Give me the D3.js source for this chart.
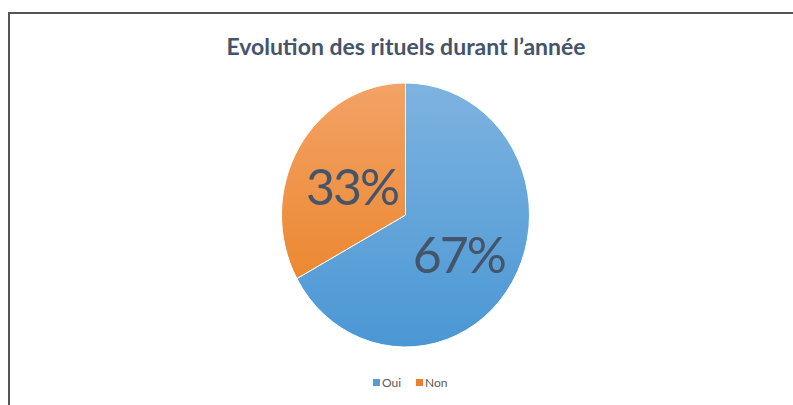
<!DOCTYPE html>
<html>
<head>
<meta charset="utf-8">
<script src="https://cdn.jsdelivr.net/npm/d3@7"></script>
<style>
  body { margin: 0; background: #fff; }
  svg { display: block; font-family: Lato, "Open Sans", sans-serif; }
</style>
</head>
<body>
<svg id="chart" width="793" height="405"></svg>
<script>
// Data
const categories = ["Oui", "Non"]
const values = [67, 33]
const labels = ["67%", "33%"]
const title = "Evolution des rituels durant l\u2019année"

const width = 793, height = 405
const svg = d3.select("#chart")

// Frame
svg.append("path")
  .attr("d", `M9,${height} L9,13 L${width},13`)
  .attr("fill", "none")
  .attr("stroke", "#555")
  .attr("stroke-width", 2)

// Title
svg.append("text")
  .attr("x", 406)
  .attr("y", 55)
  .attr("text-anchor", "middle")
  .style("font-size", "23px")
  .style("font-weight", "700")
  .style("fill", "#44546a")
  .text(title)

// Gradients
const defs = svg.append("defs")
const gradients = [
  { id: "g-oui", top: "#7eb3e0", bottom: "#4a97d4" },
  { id: "g-non", top: "#f3a266", bottom: "#e97f1f" }
]
gradients.forEach(g => {
  const lg = defs.append("linearGradient")
    .attr("id", g.id)
    .attr("gradientUnits", "userSpaceOnUse")
    .attr("x1", 0).attr("y1", -132)
    .attr("x2", 0).attr("y2", 132)
  lg.append("stop").attr("offset", "0%").attr("stop-color", g.top)
  lg.append("stop").attr("offset", "100%").attr("stop-color", g.bottom)
})
const color = d3.scaleOrdinal().domain(categories).range(["url(#g-oui)", "url(#g-non)"])
const legendColor = d3.scaleOrdinal().domain(categories).range(["#5b9bd5", "#ed7d31"])

// Pie
const cx = 405.5, cy = 215
const rx = 124, ry = 132
const r = ry
const pie = d3.pie().sort(null).value(d => d.value)
const arcs = pie(categories.map((c, i) => ({ name: c, value: values[i], label: labels[i] })))
const arc = d3.arc().innerRadius(0).outerRadius(r)

const g = svg.append("g")
  .attr("transform", `translate(${cx},${cy}) scale(${rx / ry},1)`)

g.selectAll("path.slice")
  .data(arcs)
  .enter()
  .append("path")
  .attr("class", "slice")
  .attr("d", arc)
  .attr("fill", d => color(d.data.name))
  .attr("stroke", "#fff")
  .attr("stroke-width", 1)

// Labels
const labelArc = d3.arc().innerRadius(r * 0.5).outerRadius(r * 0.5)
svg.selectAll("text.value-label")
  .data(arcs)
  .enter()
  .append("text")
  .attr("class", "value-label")
  .attr("x", d => cx + labelArc.centroid(d)[0] * rx / ry)
  .attr("y", d => cy + labelArc.centroid(d)[1])
  .attr("dy", "0.48em")
  .attr("text-anchor", "middle")
  .style("font-size", "50px")
  .style("letter-spacing", "-2px")
  .style("fill", "#44546a")
  .text(d => d.data.label)

// Legend
const legend = svg.append("g").attr("transform", "translate(373,384)")
const items = [{ name: "Oui", x: 0 }, { name: "Non", x: 43 }]
items.forEach(it => {
  legend.append("rect")
    .attr("x", it.x).attr("y", -5)
    .attr("width", 7).attr("height", 7)
    .attr("fill", legendColor(it.name))
  legend.append("text")
    .attr("x", it.x + 9).attr("y", 3)
    .style("font-size", "12px")
    .style("fill", "#595959")
    .text(it.name)
})
</script>
</body>
</html>
